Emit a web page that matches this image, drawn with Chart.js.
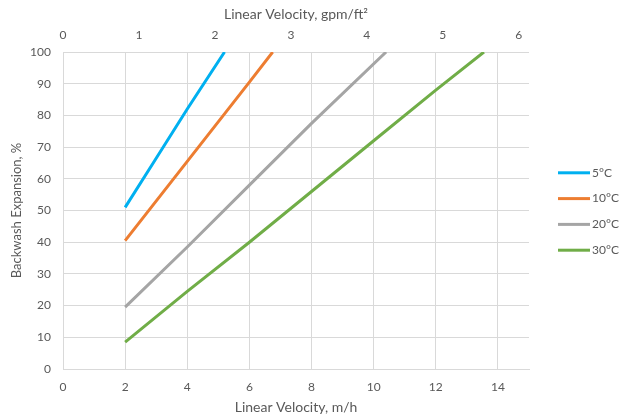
<!DOCTYPE html>
<html>
<head>
<meta charset="utf-8">
<script src="https://cdn.jsdelivr.net/npm/chart.js@4"></script>
<style>
  html,body{margin:0;padding:0;background:#fff;}
  #wrap{width:628px;height:419px;}
</style>
</head>
<body>
<div id="wrap"><canvas id="chart"></canvas></div>
<script>
'use strict';
// values (x in m/h, y in %)
const seriesNames = ['5°C', '10°C', '20°C', '30°C'];
const x5 = [2, 3, 4, 5.2];
const y5 = [51, 66.5, 82, 100];
const x10 = [2, 4, 6, 6.75];
const y10 = [40.5, 65.5, 90.5, 100];
const x20 = [2, 4, 6, 8, 10.4];
const y20 = [19.5, 38.5, 58, 77.5, 100];
const x30 = [2, 4, 6, 8, 10, 12, 13.55];
const y30 = [8.5, 24.5, 40, 56, 72, 88, 100];
const bottomTicks = [0, 2, 4, 6, 8, 10, 12, 14];
const topTicks = [0, 1, 2, 3, 4, 5, 6];
const M_H_PER_GPM_FT2 = 2.4448;
const colors = ['#00b0f0', '#ed7d31', '#a5a5a5', '#70ad47'];

(function(){
  const el = (id)=>document.getElementById(id);
  const pts = (xs, ys)=>xs.map((x,i)=>({x, y: ys[i]}));
  const xs = [x5, x10, x20, x30], ys = [y5, y10, y20, y30];
  const txt = '#595959', grid = '#d9d9d9';
  const family = 'Lato, "Open Sans", sans-serif';
  const tickFont = { family, size: 12 };
  const titleFont = { family, size: 14 };

  const datasets = seriesNames.map((name, i) => ({
    label: name, data: pts(xs[i], ys[i]), xAxisID: 'x',
    borderColor: colors[i], backgroundColor: colors[i],
    borderWidth: 3, pointRadius: 0, tension: 0, fill: false
  }));

  const setTicks = (vals)=> (scale)=>{ scale.ticks = vals.map(v => ({ value: v })); };

  // legend on the right, drawn by hand (line sample + label)
  const sideLegend = {
    id: 'sideLegend',
    afterDraw(chart){
      const { ctx, chartArea: a } = chart;
      const step = 25.8, mid = (a.top + a.bottom) / 2 + 1;
      const x0 = a.right + 29;
      ctx.save();
      ctx.font = '12px ' + family;
      ctx.textBaseline = 'middle';
      chart.data.datasets.forEach((ds, i) => {
        const y = mid + (i - (chart.data.datasets.length - 1) / 2) * step;
        ctx.strokeStyle = ds.borderColor; ctx.lineWidth = 3;
        ctx.beginPath(); ctx.moveTo(x0, y); ctx.lineTo(x0 + 32, y); ctx.stroke();
        ctx.fillStyle = txt;
        ctx.fillText(ds.label, x0 + 34, y);
      });
      ctx.restore();
    }
  };

  new Chart(el('chart'), {
    type: 'line',
    data: { datasets },
    plugins: [sideLegend],
    options: {
      responsive: true, maintainAspectRatio: false, animation: false,
      layout: { padding: { left: 0, right: 99, top: 0, bottom: 0 } },
      plugins: { legend: { display: false }, tooltip: { enabled: false } },
      scales: {
        x: {
          type: 'linear', position: 'bottom', min: 0, max: 15,
          afterBuildTicks: setTicks(bottomTicks),
          afterFit: (s)=>{ s.height = 50; },
          grid: { color: grid, drawTicks: false },
          border: { color: grid },
          ticks: { color: txt, font: tickFont, padding: 11 },
          title: { display: true, text: 'Linear Velocity, m/h', color: txt, font: titleFont, padding: { top: 0, bottom: 3 } }
        },
        x2: {
          type: 'linear', position: 'top', min: 0, max: 15 / M_H_PER_GPM_FT2,
          afterBuildTicks: setTicks(topTicks),
          afterFit: (s)=>{ s.height = 52; },
          grid: { display: false, drawTicks: false },
          border: { display: false },
          ticks: { color: txt, font: tickFont, padding: 10 },
          title: { display: true, text: 'Linear Velocity, gpm/ft²', color: txt, font: titleFont, padding: { top: 5.6, bottom: 0 } }
        },
        y: {
          min: 0, max: 100,
          afterFit: (s)=>{ s.width = 63; },
          ticks: { stepSize: 10, color: txt, font: tickFont, padding: 12 },
          grid: { color: grid, drawTicks: false },
          border: { color: grid },
          title: { display: true, text: 'Backwash Expansion, %', color: txt, font: { family, size: 13 }, padding: { top: 8.6, bottom: 0 } }
        }
      }
    }
  });
})();
</script>
</body>
</html>
